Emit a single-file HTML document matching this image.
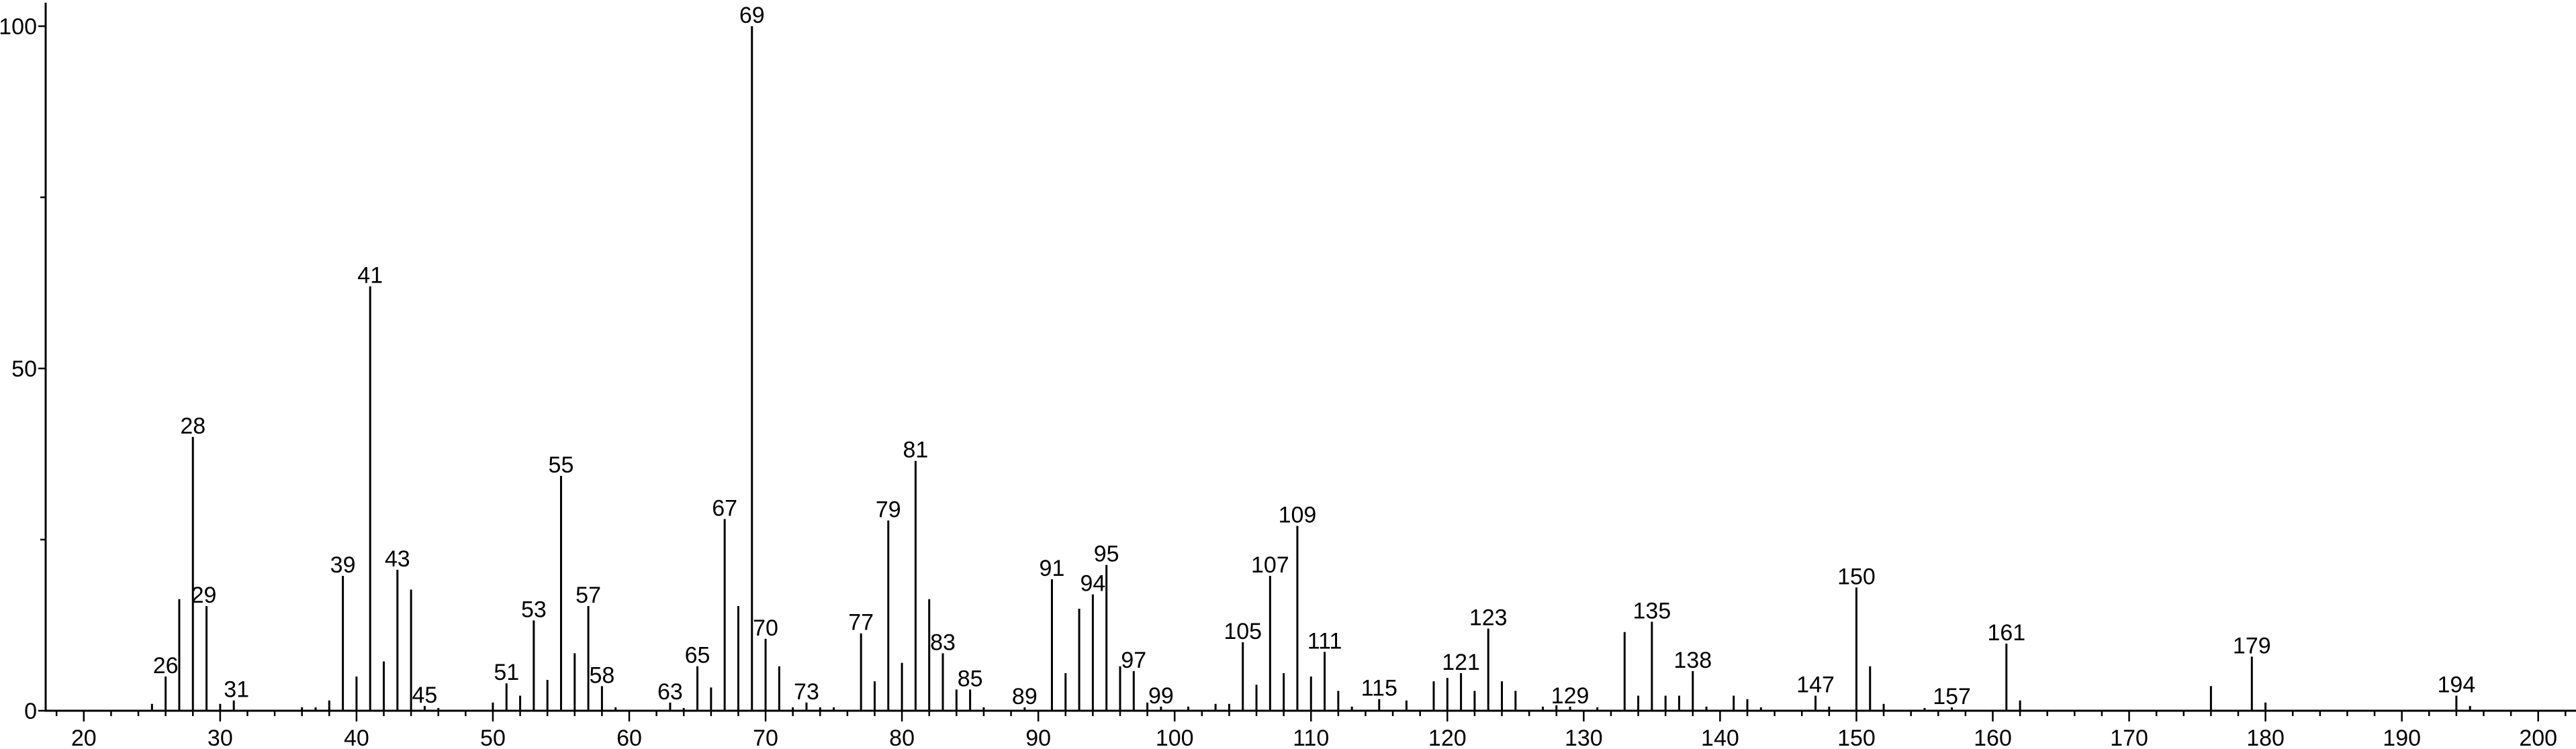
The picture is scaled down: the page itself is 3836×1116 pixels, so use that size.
<!DOCTYPE html>
<html><head><meta charset="utf-8">
<style>html,body{margin:0;padding:0;background:#fff;}svg{display:block;}</style>
</head><body>
<svg id="c" xmlns="http://www.w3.org/2000/svg" width="3836" height="1116" viewBox="0 0 3836 1116" font-family="Liberation Sans, sans-serif" font-size="34" fill="#000"></svg>
<script>
const svg=document.getElementById('c');
const X=m=>124.8+(m-20)*20.305, B=1059, S=10.2;
const Y=p=>B-p*S;
let h='';
// axes
h+=`<line x1="68" y1="4" x2="68" y2="${B+1.5}" stroke="#000" stroke-width="3"/>`;
h+=`<line x1="66.5" y1="${B}" x2="3836" y2="${B}" stroke="#000" stroke-width="3"/>`;
[0,25,50,75,100].forEach(p=>{h+=`<line x1="${p%50?60:57}" y1="${Y(p)}" x2="68" y2="${Y(p)}" stroke="#000" stroke-width="2.5"/>`;});
[[0,'0'],[50,'50'],[100,'100']].forEach(([p,t])=>{h+=`<text x="55" y="${Y(p)+12}" text-anchor="end">${t}</text>`;});
for(let m=18;m<=202;m+=2){const x=X(m);const maj=m%10==0;h+=`<line x1="${x}" y1="${B}" x2="${x}" y2="${B+(maj?16:8)}" stroke="#000" stroke-width="2.5"/>`;if(maj&&m>=20&&m<=200)h+=`<text x="${x}" y="1111" text-anchor="middle">${m}</text>`;}
const pk=[[25,1],[26,5],[27,16.3],[28,40],[29,15.3],[30,1],[31,1.5],[36,.5],[37,.5],[38,1.5],[39,19.7],[40,5],[41,62],[42,7.2],[43,20.6],[44,17.7],[45,.7],[46,.4],[50,1.2],[51,4],[52,2.2],[53,13.2],[54,4.5],[55,34.3],[56,8.4],[57,15.3],[58,3.6],[59,.5],[63,1.2],[64,.4],[65,6.5],[66,3.4],[67,28],[68,15.3],[69,100],[70,10.5],[71,6.5],[72,.5],[73,1.2],[74,.5],[75,.5],[77,11.3],[78,4.3],[79,27.8],[80,7],[81,36.5],[82,16.3],[83,8.4],[84,3.1],[85,3.1],[86,.5],[89,.5],[91,19.2],[92,5.5],[93,14.9],[94,17],[95,21.3],[96,6.5],[97,5.8],[98,1.2],[99,.6],[101,.6],[103,1],[104,1],[105,10],[106,3.8],[107,19.7],[108,5.5],[109,27],[110,5],[111,8.6],[112,2.9],[113,.6],[115,1.7],[117,1.5],[119,4.3],[120,4.8],[121,5.5],[122,2.9],[123,12],[124,4.3],[125,2.9],[127,.6],[128,.8],[129,.6],[131,.5],[133,11.5],[134,2.2],[135,13],[136,2.2],[137,2.2],[138,5.8],[139,.6],[141,2.2],[142,1.7],[143,.5],[147,2.2],[148,.6],[150,18],[151,6.5],[152,1],[155,.4],[157,.5],[161,9.8],[162,1.5],[176,3.6],[179,7.9],[180,1.2],[194,2.2],[195,.7]];
const lab=[26,28,29,31,39,41,43,45,51,53,55,57,58,63,65,67,69,70,73,77,79,81,83,85,89,91,94,95,97,99,105,107,109,111,115,121,123,129,135,138,147,150,157,161,179,194];
pk.forEach(([m,p])=>{const x=X(m);h+=`<line x1="${x}" y1="${B}" x2="${x}" y2="${Y(p)}" stroke="#000" stroke-width="3"/>`;if(lab.includes(m))h+=`<text x="${x+(m==29?-4:0)+(m==31?4:0)}" y="${Math.max(Y(p)-5,34)}" text-anchor="middle">${m}</text>`;});
svg.innerHTML=h;
</script>
</body></html>
